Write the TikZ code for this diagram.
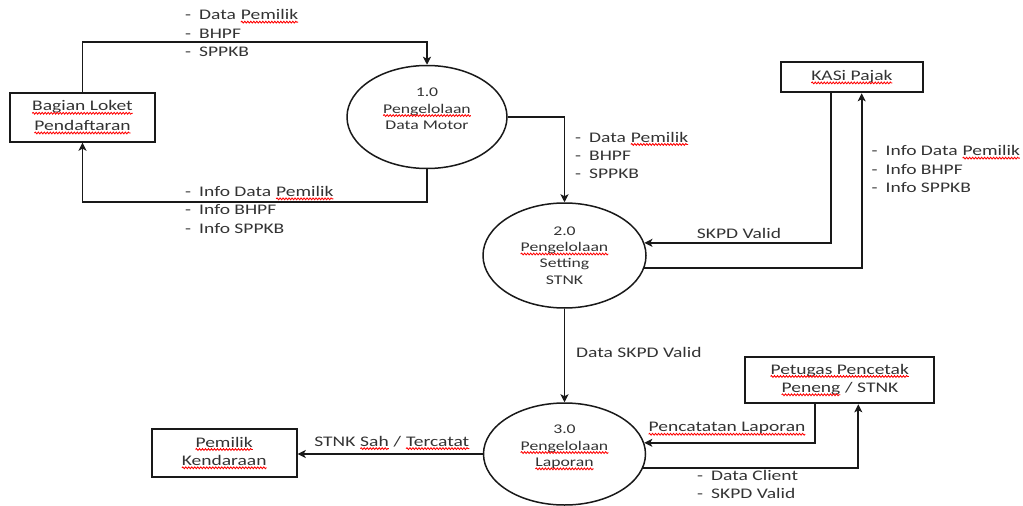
\documentclass[tikz,border=0pt]{standalone}
\usepackage{fontspec}
\setmainfont[FakeStretch=1.33]{Carlito}
\usetikzlibrary{arrows.meta,shapes.geometric,calc,decorations.pathmorphing}

\definecolor{ink}{gray}{0.2}
\definecolor{edge}{gray}{0.1}

% red wavy underline (spell-check style); the inner node resets the
% shape settings it would otherwise take over from the enclosing node
\newcommand\sq[1]{\tikz[baseline=(w.base)]{%
  \node[shape=rectangle, draw=none, fill=none, minimum width=0pt,
        minimum height=0pt, inner sep=0pt, outer sep=0pt, anchor=center,
        align=center] (w) {#1};%
  \draw[red, line width=0.85pt, decorate,
        decoration={snake, amplitude=0.9pt, segment length=3pt}]
    ([yshift=-2.4pt]w.base west) -- ([yshift=-2.4pt]w.base east);}}
% list bullet: a dash followed by a fixed gap
\newcommand\itm{\makebox[14pt][l]{-}}

\tikzset{
  big/.style={font=\fontsize{14.67}{18.3}\selectfont},
  small/.style={font=\fontsize{13.3}{16.3}\selectfont},
  entity/.style={draw=edge, line width=2pt, inner sep=0pt, align=center,
                 text=ink, big},
  proc/.style={ellipse, draw=edge, line width=1.5pt, inner sep=0pt,
               align=center, text=ink, small},
  lbl/.style={inner sep=0pt, align=left, text=ink, big},
  flow/.style={draw=edge, line width=1.7pt,
               -{Stealth[length=8pt,width=8pt,inset=2pt]}},
}

\begin{document}
\begin{tikzpicture}[x=1pt,y=-1pt]
\useasboundingbox (0,0) rectangle (1023,506);

% external entities
\node[entity, minimum width=145pt, minimum height=48.4pt] (loket) at (82.5,117.5)
  {\sq{Bagian Loket}\\[1.4pt]\sq{Pendaftaran}};
\node[entity, minimum width=142.3pt, minimum height=30pt] (kasi) at (851.9,77.3)
  {\sq{KASi Pajak}};
\node[entity, minimum width=189.3pt, minimum height=46.6pt] (pet) at (839.7,380)
  {\sq{Petugas Pencetak}\\\sq{Peneng} / STNK};
\node[entity, minimum width=145pt, minimum height=47.7pt] (owner) at (224.2,453)
  {\sq{Pemilik}\\\sq{Kendaraan}};

% processes
\node[proc, minimum width=160pt, minimum height=103pt] (p1) at (427,117)
  {1.0\\\sq{Pengelolaan}\\Data Motor\\\mbox{}};
\node[proc, minimum width=163pt, minimum height=105pt] (p2) at (564.5,255.5)
  {2.0\\\sq{Pengelolaan}\\Setting\\STNK};
\node[proc, minimum width=162pt, minimum height=102pt] (p3) at (564.5,454)
  {3.0\\\sq{Pengelolaan}\\\sq{Laporan}\\\mbox{}};

% data flows
\draw[flow] (loket.north) -- ++(0,-50.6) -| (p1.north);
\draw[flow] (p1.south) -- ++(0,33) -| (loket.south);
\draw[flow] (p1.east) -| (p2.north);

\coordinate (kv) at (830.7,242.7);
\coordinate (ku) at (861.7,268);
\draw[flow] (kasi.south -| kv) |- (p2.9);
\draw[flow] (p2.-9) -| (kasi.south -| ku);

\draw[flow] (p2.south) -- (p2.south |- p3.north);

\coordinate (pv) at (815,443.3);
\coordinate (pu) at (858.3,467.7);
\draw[flow] (pet.south -| pv) |- (p3.8);
\draw[flow] (p3.-10) -| (pet.south -| pu);

\draw[flow] (p3.west) -- (p3.west -| owner.east);

% flow labels
\node[lbl, anchor=west] (l1) at (185,33)
  {\itm Data \sq{Pemilik}\\\itm BHPF\\\itm SPPKB};
\node[lbl, anchor=west] (l2) at (185,209.7)
  {\itm Info Data \sq{Pemilik}\\\itm Info BHPF\\\itm Info SPPKB};
\node[lbl, anchor=west] (l3) at (575,155.3)
  {\itm Data \sq{Pemilik}\\\itm BHPF\\\itm SPPKB};
\node[lbl, anchor=west] (l4) at (871.5,169)
  {\itm Info Data \sq{Pemilik}\\\itm Info BHPF\\\itm Info SPPKB};
\node[lbl] (l5) at (739,233) {SKPD Valid};
\node[lbl, anchor=west] (l6) at (576,352) {Data SKPD Valid};
\node[lbl] (l7) at (392,443) {STNK \sq{Sah} / \sq{Tercatat}};
\node[lbl] (l8) at (727,429) {\sq{Pencatatan Laporan}};
\node[lbl, anchor=west] (l9) at (697,484.8)
  {\itm Data Client\\\itm SKPD Valid};
\end{tikzpicture}
\end{document}
